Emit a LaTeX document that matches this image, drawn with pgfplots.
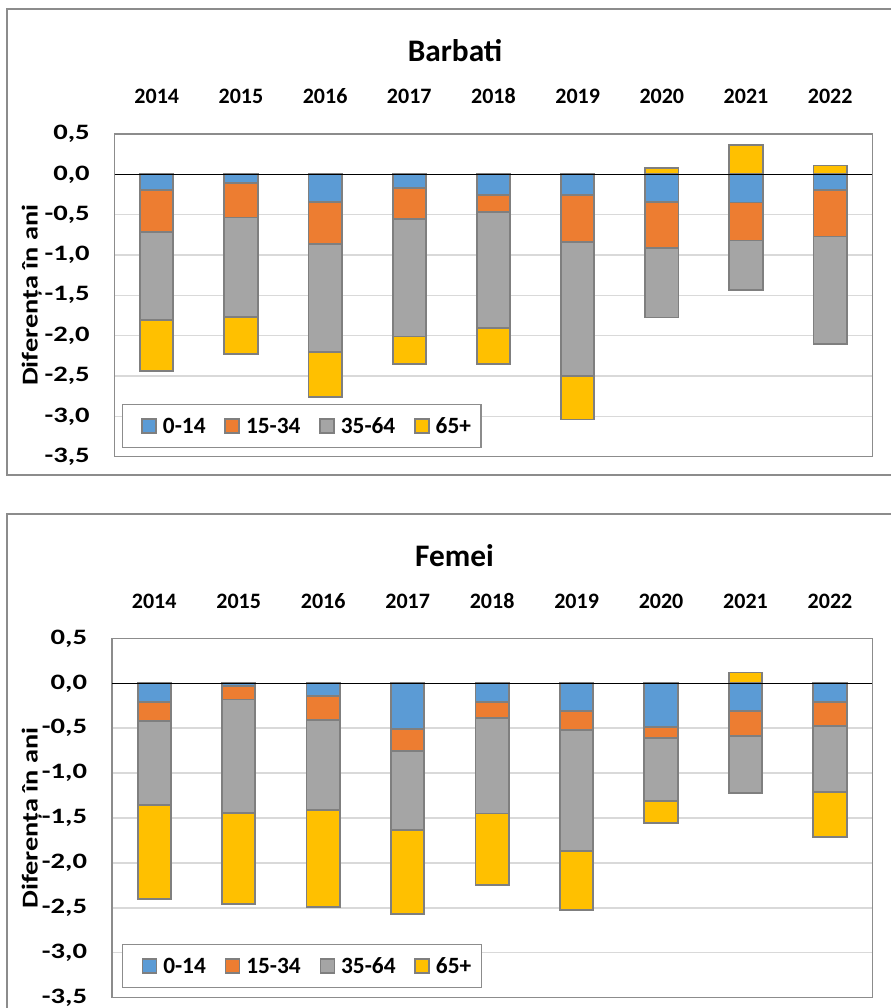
\documentclass[border=0pt]{standalone}
\usepackage{pgfplots}
\usepackage{pgfplotstable}
\pgfplotsset{compat=1.18}
\usepackage{fontspec}
\setmainfont{Carlito}
\definecolor{cBlue}{HTML}{5B9BD5}
\definecolor{cOrange}{HTML}{ED7D31}
\definecolor{cGray}{HTML}{A5A5A5}
\definecolor{cYellow}{HTML}{FFC000}
\definecolor{cEdge}{HTML}{7F7F7F}
\definecolor{cGrid}{HTML}{D9D9D9}
\definecolor{cFrame}{HTML}{8C8C8C}

% cumulative bottoms of each stacked segment (65+ positive where it sits above zero)
\pgfplotstableread{
x blue orange gray yellow
0 -0.19 -0.72  -1.81  -2.44
1 -0.11 -0.535 -1.77  -2.23
2 -0.34 -0.865 -2.20  -2.76
3 -0.17 -0.555 -2.01  -2.35
4 -0.26 -0.47  -1.91  -2.35
5 -0.26 -0.84  -2.50  -3.04
6 -0.34 -0.91  -1.775  0.08
7 -0.35 -0.82  -1.43   0.36
8 -0.19 -0.77  -2.10   0.11
}\barbati

\pgfplotstableread{
x blue orange gray yellow
0 -0.21  -0.415 -1.36  -2.405
1 -0.03  -0.18  -1.44  -2.46
2 -0.14  -0.41  -1.415 -2.49
3 -0.51  -0.75  -1.63  -2.565
4 -0.205 -0.39  -1.45  -2.245
5 -0.305 -0.52  -1.865 -2.52
6 -0.49  -0.605 -1.315 -1.56
7 -0.305 -0.587 -1.225  0.12
8 -0.21  -0.48  -1.21  -1.71
}\femei

\newcommand{\tickfont}{\fontsize{16.5}{19}\selectfont\bfseries}
\newcommand{\legfont}{\fontsize{17.5}{20}\selectfont\bfseries}

\pgfplotsset{
  sq/.style={
    ybar, bar width=25pt, bar shift=0pt,
    draw=cEdge, line width=1.4pt,
    legend image code/.code={%
      \path (-11pt,0pt);
      \draw[##1, line width=1.2pt] (0pt,-5.25pt) rectangle (10.5pt,5.25pt);}
  },
  base/.style={
    scale only axis,
    anchor=south west,
    ybar,
    xmin=-0.5, xmax=8.5, ymin=-3.5, ymax=0.5,
    xtick={0,...,8},
    xticklabels={2014,2015,2016,2017,2018,2019,2020,2021,2022},
    xticklabel pos=upper,
    ytick={-3.5,-3,-2.5,-2,-1.5,-1,-0.5,0,0.5},
    yticklabel={\scalebox{1.3}[1]{\pgfmathprintnumber{\tick}}},
    ymajorgrids,
    major grid style={cGrid, line width=1.1pt},
    tick style={draw=none},
    axis line style={cFrame, line width=0.9pt},
    ticklabel style={font=\tickfont},
    yticklabel style={inner sep=0pt, anchor=east, xshift=-18.5pt,
      /pgf/number format/.cd, use comma, fixed, fixed zerofill, precision=1},
    xticklabel style={inner sep=0pt, anchor=south, yshift=18pt},
    /pgf/number format/assume math mode=true,
    legend columns=4,
    reverse legend,
    legend style={draw=cFrame, line width=0.9pt, fill=white,
      font=\legfont, inner xsep=3pt, inner ysep=5.2pt,
      nodes={inner xsep=4.5pt, inner ysep=4pt, text height=12.5pt, text depth=1.6pt},
      /tikz/every even column/.append style={column sep=-1.5pt}},
  }
}

\begin{document}
\begin{tikzpicture}
\useasboundingbox (0,0) rectangle (668.25pt,756pt);
\clip (0,0) rectangle (668.25pt,756pt);
\draw[cFrame, line width=1.1pt, fill=white] (5.25pt,399.75pt) rectangle (670pt,749.25pt);
\draw[cFrame, line width=1.1pt, fill=white] (5.25pt,-5pt) rectangle (670pt,370.5pt);

\node[font=\fontsize{23.5}{26}\selectfont\bfseries, inner sep=0pt] at (341.25pt,717.75pt) {Barbati};
\node[font=\fontsize{23.5}{26}\selectfont\bfseries, inner sep=0pt] at (340.9pt,339pt) {Femei};
\node[font=\fontsize{17}{20}\selectfont\bfseries, rotate=90, inner sep=0pt] at (23.8pt,534.5pt) {\scalebox{1.25}[1]{Diferența în ani}};
\node[font=\fontsize{17}{20}\selectfont\bfseries, rotate=90, inner sep=0pt] at (23.8pt,142.5pt) {\scalebox{1.25}[1]{Diferența în ani}};

\begin{axis}[base, at={(86.0pt,413.5pt)}, width=568.2pt, height=242pt,
  legend style={at={(0.247,0.0945)}, anchor=center}]
\addplot[sq, fill=cYellow] table[x=x, y=yellow]{\barbati};
\addplot[sq, fill=cGray] table[x=x, y=gray]{\barbati};
\addplot[sq, fill=cOrange] table[x=x, y=orange]{\barbati};
\addplot[sq, fill=cBlue] table[x=x, y=blue]{\barbati};
\draw[black, line width=1.1pt] (axis cs:-0.5,0) -- (axis cs:8.5,0);
\legend{65+,35-64,15-34,0-14}
\end{axis}

\begin{axis}[base, at={(84.0pt,7.8pt)}, width=570.2pt, height=269.4pt,
  legend style={at={(0.25,0.0885)}, anchor=center}]
\addplot[sq, fill=cYellow] table[x=x, y=yellow]{\femei};
\addplot[sq, fill=cGray] table[x=x, y=gray]{\femei};
\addplot[sq, fill=cOrange] table[x=x, y=orange]{\femei};
\addplot[sq, fill=cBlue] table[x=x, y=blue]{\femei};
\draw[black, line width=1.1pt] (axis cs:-0.5,0) -- (axis cs:8.5,0);
\legend{65+,35-64,15-34,0-14}
\end{axis}
\end{tikzpicture}
\end{document}
